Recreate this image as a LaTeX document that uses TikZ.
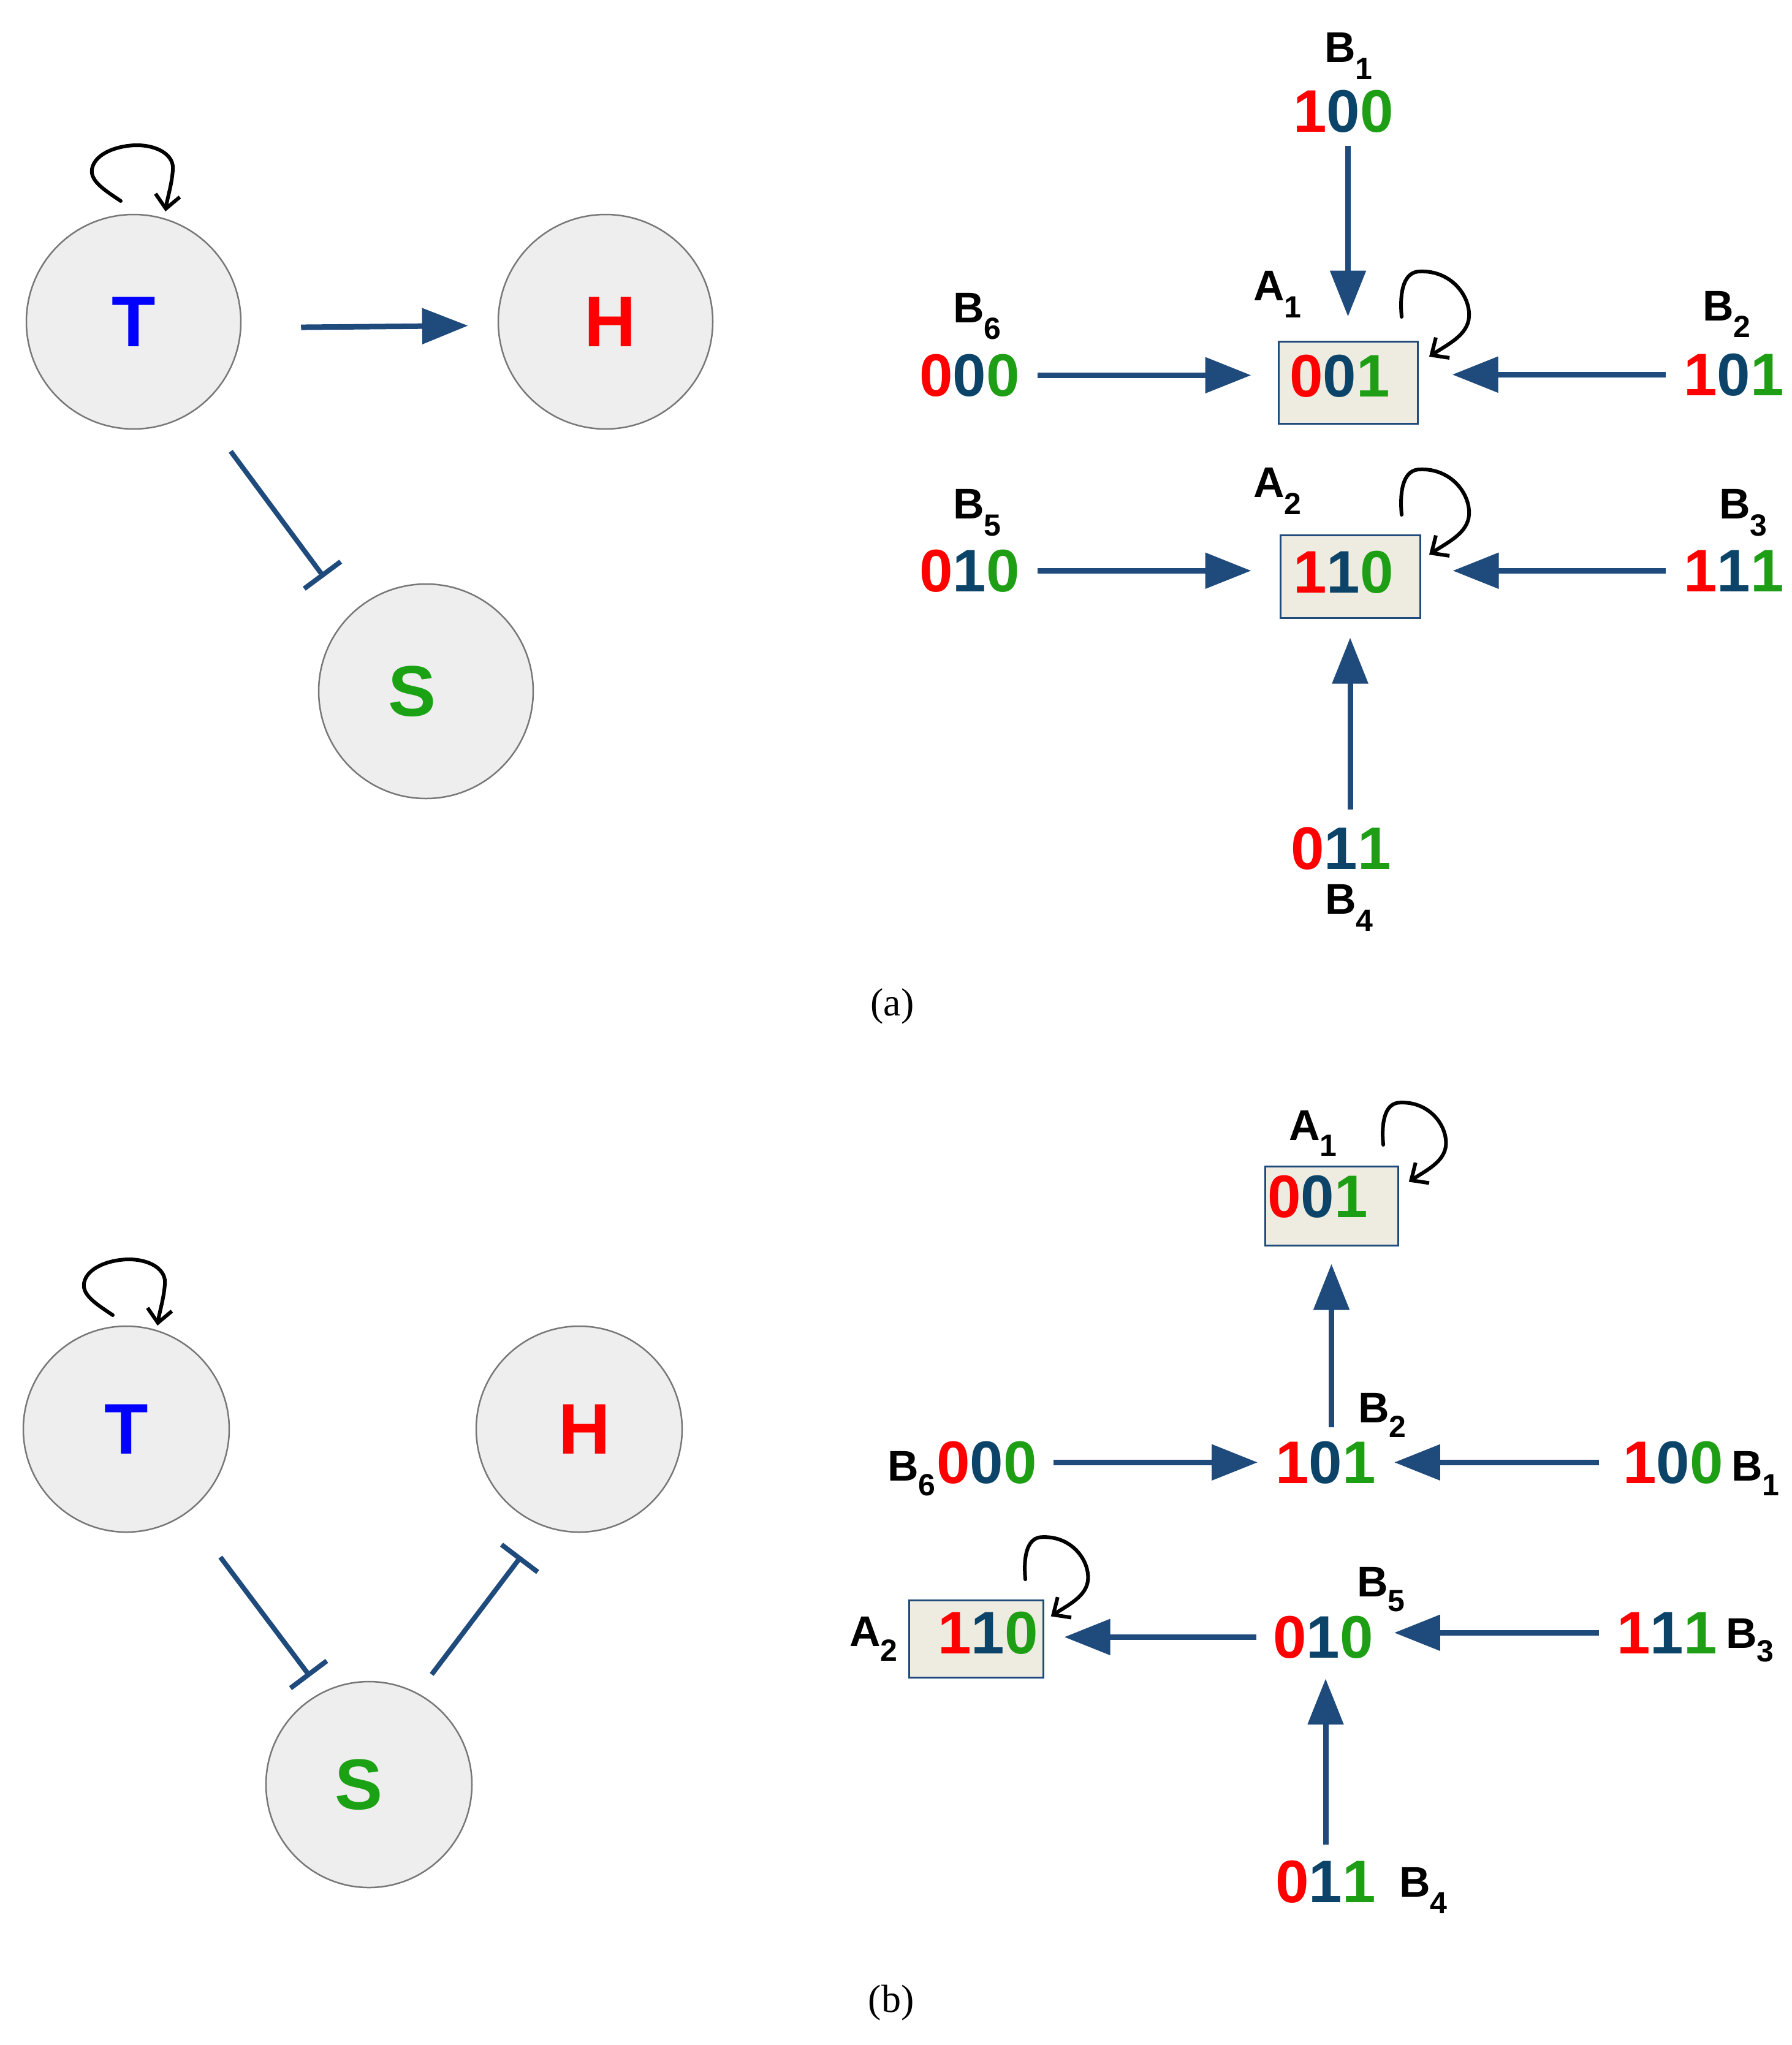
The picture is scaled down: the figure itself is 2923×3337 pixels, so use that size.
\documentclass[tikz,border=0pt]{standalone}
\usepackage{fontspec}
\newfontfamily\arialf{Liberation Sans}
\newfontfamily\serifcap{Liberation Serif}
\usetikzlibrary{arrows.meta}
\definecolor{cT}{HTML}{0000FF}
\definecolor{cH}{HTML}{FF0000}
\definecolor{cS}{HTML}{1AA214}
\definecolor{dR}{HTML}{FF0000}
\definecolor{dB}{HTML}{0B4468}
\definecolor{dG}{HTML}{1E9E14}
\definecolor{arrblue}{HTML}{1F4A7C}
\definecolor{circfill}{HTML}{EEEEEE}
\definecolor{circgray}{HTML}{777777}
\definecolor{boxfill}{HTML}{EEEBE1}
\newcommand\bits[3]{\textcolor{dR}{#1}\textcolor{dB}{#2}\textcolor{dG}{#3}}
\newcommand\sublbl[3][28pt]{{\fontsize{70pt}{70pt}\selectfont #2}\lower#1\hbox{\fontsize{50pt}{50pt}\selectfont #3}}
\tikzset{
  circ/.style={circle, draw=circgray, fill=circfill, line width=2.5pt, minimum size=350pt, inner sep=0pt, font=\arialf\bfseries\fontsize{117pt}{117pt}\selectfont},
  circtwo/.style={circ, minimum size=336pt},
  sbox/.style={rectangle, draw=arrblue, fill=boxfill, line width=3pt, inner sep=0pt},
  dig/.style={inner sep=0pt, anchor=base, font=\arialf\bfseries\fontsize{98pt}{98pt}\selectfont},
  lab/.style={inner sep=0pt, anchor=base west, text=black, font=\arialf\bfseries},
  arr/.style={draw=arrblue, line width=9pt, -{Triangle[length=75pt,width=57pt]}},
  inh/.style={draw=arrblue, line width=8pt, -{Bar[width=74pt]}},
  loopy/.style={draw=black, line width=6pt, line cap=round, -{Straight Barb[length=22pt,width=40pt]}},
  tloop/.pic={\draw[loopy] (0,0) .. controls (-25,-17) and (-50,-32) .. (-47,-52) .. controls (-42,-80) and (0,-91) .. (26,-91) .. controls (60,-91) and (88,-75) .. (85,-50) .. controls (83,-25) and (76,-5) .. (73,17);},
  bloop/.pic={\draw[loopy] (0,0) .. controls (-4,-45) and (5,-74) .. (30,-74) .. controls (80,-76) and (112,-35) .. (110,0) .. controls (108,30) and (75,45) .. (45,65);},
  captext/.style={inner sep=0pt, font=\serifcap\fontsize{64pt}{64pt}\selectfont}
}
\begin{document}
\begin{tikzpicture}[x=1pt,y=-1pt]
\useasboundingbox (0,0) rectangle (2923,3337);
% ---------- (a) left ----------
\node[circ, text=cT] (Ta) at (218,525) {T};
\node[circ, text=cH] (Ha) at (988,525) {\kern16pt H};
\node[circ, text=cS] (Sa) at (695,1128) {S\kern44pt};
\draw[arr, shorten <=97pt, shorten >=48pt] ([yshift=-10pt]Ta.east) -- ([yshift=-6pt]Ha.west);
\draw[inh, shorten <=88pt, shorten >=74pt] (Ta.307.8) -- (Sa.134.9);
\pic at (197,328) {tloop};
% ---------- (a) right ----------
\node[sbox, minimum width=227pt, minimum height=134pt] (A1a) at (2199.5,624) {};
\node[sbox, minimum width=228pt, minimum height=135pt] (A2a) at (2203,940.5) {};
\node[dig] (d100a) at (2192,215) {\bits100};
\node[dig] (d000a) at (1582,646) {\bits000};
\node[dig] (d001a) at (2186,647) {\bits001};
\node[dig] (d101a) at (2829,645) {\bits101};
\node[dig] (d010a) at (1582,965) {\bits010};
\node[dig] (d110a) at (2192,967) {\bits110};
\node[dig] (d111a) at (2829,965) {\bits111};
\node[dig] (d011a) at (2188,1418) {\bits011};
\node[lab] (lB1a) at (2161,102) {\sublbl{B}{1}};
\node[lab] (lA1a) at (2045,490) {\sublbl{A}{1}};
\node[lab] (lB6a) at (1555,526) {\sublbl[27pt]{B}{6}};
\node[lab] (lB2a) at (2778,523) {\sublbl[27pt]{B}{2}};
\node[lab] (lA2a) at (2045,811) {\sublbl{A}{2}};
\node[lab] (lB5a) at (1555,846) {\sublbl{B}{5}};
\node[lab] (lB3a) at (2805,846) {\sublbl{B}{3}};
\node[lab] (lB4a) at (2162,1491) {\sublbl{B}{4}};
\draw[arr, shorten <=22pt, shorten >=39pt] (A1a.north |- d100a.south) -- (A1a.north);
\draw[arr, shorten <=29pt, shorten >=43pt] (d000a.east) -- (d000a.east -| A1a.west);
\draw[arr, shorten <=29pt, shorten >=55pt] (d101a.west) -- (d101a.west -| A1a.east);
\draw[arr, shorten <=29pt, shorten >=46pt] (d010a.east) -- (d010a.east -| A2a.west);
\draw[arr, shorten <=29pt, shorten >=52pt] (d111a.west) -- (d111a.west -| A2a.east);
\draw[arr, shorten <=28pt, shorten >=31pt] (A2a.south |- d011a.north) -- (A2a.south);
\pic at (2287,517) {bloop};
\pic at (2287,840) {bloop};
\node[captext] (capa) at (1456,1642) {(a)};
% ---------- (b) left ----------
\node[circtwo, text=cT] (Tb) at (206,2332) {T};
\node[circtwo, text=cH] (Hb) at (945,2332) {\kern18pt H};
\node[circtwo, text=cS] (Sb) at (602,2912) {S\kern32pt};
\draw[inh, shorten <=90pt, shorten >=32pt] (Tb.306.9) -- (Sb.117.6);
\draw[inh, shorten <=38pt, shorten >=61pt] (Sb.62) -- (Hb.250.2);
\pic at (184,2146) {tloop};
% ---------- (b) right ----------
\node[sbox, minimum width=217pt, minimum height=129pt] (A1b) at (2172.5,1967.5) {};
\node[sbox, minimum width=219pt, minimum height=126pt] (A2b) at (1592.5,2674) {};
\node[dig] (d001b) at (2150,1986) {\bits001};
\node[dig] (d101b) at (2163,2420) {\bits101};
\node[dig] (d000b) at (1610,2420) {\bits000};
\node[dig] (d100b) at (2730,2420) {\bits100};
\node[dig] (d110b) at (1612,2698) {\bits110};
\node[dig] (d010b) at (2159,2705) {\bits010};
\node[dig] (d111b) at (2720,2698) {\bits111};
\node[dig] (d011b) at (2163,3104) {\bits011};
\node[lab] (lA1b) at (2103,1860) {\sublbl[26pt]{A}{1}};
\node[lab] (lB2b) at (2216,2321) {\sublbl[24pt]{B}{2}};
\node[lab] (lB6b) at (1448,2416) {\sublbl[24pt]{B}{6}};
\node[lab] (lB1b) at (2825,2416) {\sublbl[24pt]{B}{1}};
\node[lab] (lA2b) at (1386,2686) {\sublbl[24pt]{A}{2}};
\node[lab] (lB5b) at (2214,2605) {\sublbl[24pt]{B}{5}};
\node[lab] (lB3b) at (2816,2689) {\sublbl[22pt]{B}{3}};
\node[lab] (lB4b) at (2283,3095) {\sublbl[27pt]{B}{4}};
\draw[arr, shorten <=22pt, shorten >=29pt] (A1b.south |- d101b.north) -- (A1b.south);
\draw[arr, shorten <=27pt, shorten >=29pt] (d000b.east) -- (d000b.east -| d101b.west);
\draw[arr, shorten <=39pt, shorten >=30pt] (d100b.west) -- (d100b.west -| d101b.east);
\draw[arr, shorten <=27pt, shorten >=33pt] (d010b.west) -- (d010b.west -| A2b.east);
\draw[arr, shorten <=29pt, shorten >=34pt] (d111b.west) -- (d111b.west -| d010b.east);
\draw[arr, shorten <=25pt, shorten >=33pt] (d011b.north) -- (d011b.north |- d010b.south);
\pic[scale=0.93] at (2257,1868) {bloop};
\pic[scale=0.93] at (1673,2577) {bloop};
\node[captext] (capb) at (1454,3268) {(b)};
\end{tikzpicture}
\end{document}
